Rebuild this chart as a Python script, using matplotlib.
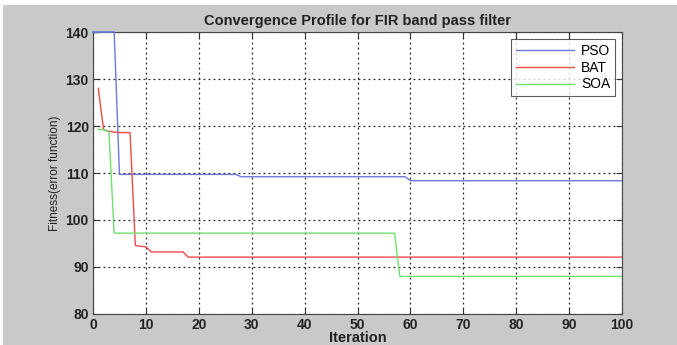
import numpy as np
import matplotlib.pyplot as plt
from matplotlib.patches import Rectangle

# iterations 1..100
iterations = np.arange(1, 101)

# PSO: piecewise constant levels
pso_head = [140, 140, 140, 140]
pso_levels = [(5, 27, 109.7), (28, 59, 109.2), (60, 100, 108.35)]

bat_head = [128.0, 119.2, 118.9, 118.7, 118.6, 118.6, 118.6, 94.6, 94.4, 94.3]
bat_levels = [(11, 17, 93.2), (18, 100, 92.1)]

soa_head = [119.3, 119.2, 118.8]
soa_levels = [(4, 57, 97.2), (58, 100, 88.0)]

x_ticks = [0, 10, 20, 30, 40, 50, 60, 70, 80, 90, 100]
y_ticks = [80, 90, 100, 110, 120, 130, 140]
series_names = ["PSO", "BAT", "SOA"]
series_colors = ["#6a78d8", "#f04a4a", "#6ee06e"]


def build(head, levels):
    vals = list(head)
    for start, end, v in levels:
        vals += [v] * (end - start + 1)
    return np.array(vals)


pso = build(pso_head, pso_levels)
bat = build(bat_head, bat_levels)
soa = build(soa_head, soa_levels)

plt.rcParams['font.family'] = ['Liberation Sans', 'DejaVu Sans']

fig = plt.figure(figsize=(6.77, 3.45), dpi=100, facecolor='white')
fig.patches.append(Rectangle((0.005, 0), 0.995, 0.985, transform=fig.transFigure,
                             facecolor='#c9c9c9', edgecolor='none', zorder=-10))
ax = fig.add_axes([0.1374, 0.0899, 0.7814, 0.8173])
ax.set_facecolor('white')

for y, name, c in zip([pso, bat, soa], series_names, series_colors):
    ax.plot(iterations, y, color=c, lw=1.0, label=name)
# the top PSO segment runs along the upper edge from x=0
ax.plot([0, 1], [pso[0], pso[0]], color=series_colors[0], lw=1.0)
ax.plot([0, 4], [pso[0], pso[3]], color=series_colors[0], lw=1.2, zorder=3,
        clip_on=False)

ax.set_xlim(0, 100)
ax.set_ylim(80, 140)
ax.set_xticks(x_ticks)
ax.set_yticks(y_ticks)
ax.grid(True, color='#222222', ls=(0, (1.5, 2.5)), lw=0.9)
ax.tick_params(direction='in', top=True, right=True, labelsize=10, length=4,
               color='#333333', pad=3)
for lab in ax.get_xticklabels() + ax.get_yticklabels():
    lab.set_fontweight('bold')
    lab.set_color('#222222')
for s in ax.spines.values():
    s.set_color('#444444')
    s.set_linewidth(0.8)

ax.set_title("Convergence Profile for FIR band pass filter", fontsize=10.5,
             fontweight='bold', color='#222222', pad=5)
ax.set_xlabel("Iteration", fontsize=10.5, fontweight='bold', color='#222222', labelpad=-1)
ax.set_ylabel("Fitness(error function)", fontsize=8.5, color='#222222', labelpad=3)

leg = ax.legend(loc='upper right', fontsize=10, handlelength=4.2, frameon=True,
                fancybox=False, borderaxespad=0.5, labelspacing=0.2,
                borderpad=0.35, handletextpad=0.5)
leg.get_frame().set_edgecolor('#333333')
leg.get_frame().set_linewidth(0.8)

plt.savefig("out.png", dpi=100)
